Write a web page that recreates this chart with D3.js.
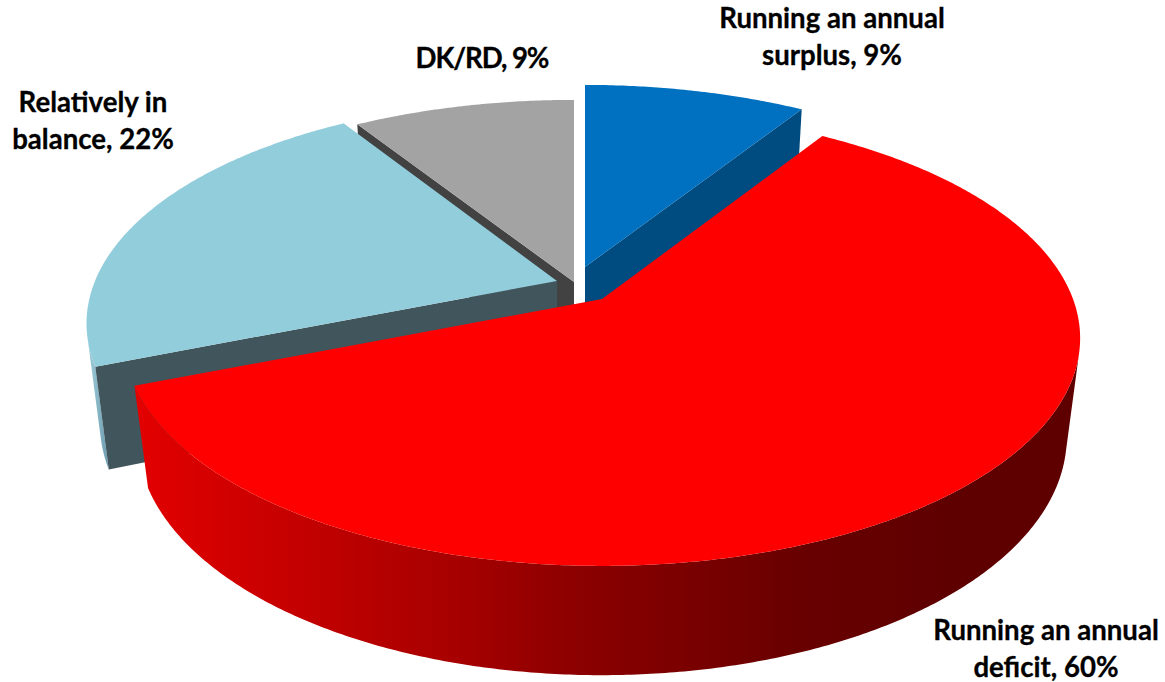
<!DOCTYPE html>
<html>
<head>
<meta charset="utf-8">
<script src="https://cdn.jsdelivr.net/npm/d3@7"></script>
<style>
  body { margin: 0; background: #fff; }
  text { font-family: Lato, "Open Sans", sans-serif; font-weight: 700; font-size: 27.6px; fill: #000; stroke: #000; stroke-width: 0.3px; text-anchor: middle; }
</style>
</head>
<body>
<script>
// chart data, clockwise from 12 o'clock
var categories = ["Running an annual surplus", "Running an annual deficit", "Relatively in balance", "DK/RD"];
var shares = [9, 60, 22, 9];
var labelLines = [
  ["Running an annual", "surplus, 9%"],
  ["Running an annual", "deficit, 60%"],
  ["Relatively in", "balance, 22%"],
  ["DK/RD, 9%"]
];

var width = 1165, height = 682;

// look of each slice: top face, cut wall, apex on screen (slices are pulled apart)
var topColors = ["#0070c0", "#ff0000", "#92cddc", "#a3a3a3"];
var wallColors = ["#004b80", "#a00000", "#40555c", "#424242"];
var apexX = [585, 602, 557, 574];
var apexY = [267, 299, 281, 282];
var radiusX = [469, 471, 462, 469];
var radiusY = [216.5, 221, 216.5, 216.5];
var tilt = [0.189, 0.172, 0.189, 0.189];
var labelX = [832, 1046, 93, 482];
var labelY = [28, 640, 112, 68];
var labelSpacing = [0, 0, 0, -1.1];
var drawOrder = [3, 0, 2, 1];

// perspective of the disc side
var depthY = 101, depthW = 0.028;

var svg = d3.select("body").append("svg")
    .attr("width", width)
    .attr("height", height);

var defs = svg.append("defs");

function addGradient(id, x1, x2, stops) {
  var g = defs.append("linearGradient")
      .attr("id", id)
      .attr("gradientUnits", "userSpaceOnUse")
      .attr("x1", x1).attr("x2", x2).attr("y1", 0).attr("y2", 0);
  stops.forEach(function(s) {
    g.append("stop").attr("offset", (s[0] - x1) / (x2 - x1)).attr("stop-color", s[1]);
  });
}
addGradient("rim1", 140, 950, [[140, "#e20000"], [300, "#c40000"], [450, "#a80000"], [575, "#8c0000"], [700, "#780000"], [800, "#680000"], [950, "#5f0000"]]);
addGradient("rim2", 85, 107, [[85, "#a8d5e2"], [107, "#6f9fb2"]]);

// angle + slice -> screen, side 0 is the top face and 1 the bottom one
function project(i, angle, r, side) {
  var u = Math.sin(angle) * r, v = -Math.cos(angle) * r;
  var w = 1 - tilt[i] * v + depthW * side;
  return [apexX[i] + radiusX[i] * u / w, apexY[i] + (radiusY[i] * v + depthY * side) / w];
}

// d3.polygonArea is positive for quads that turn towards the viewer here
function facing(q) {
  return d3.polygonArea(q) > 0;
}

var line = d3.line().curve(d3.curveLinear);
var pie = d3.pie().sort(null)(shares);
var step = Math.PI / 360;

function arcAngles(a0, a1) {
  var list = d3.range(a0, a1, step);
  list.push(a1);
  return list;
}

drawOrder.forEach(function(i) {
  var a0 = pie[i].startAngle, a1 = pie[i].endAngle;
  var angles = arcAngles(a0, a1);

  // outer rim: only the part that faces the viewer
  var front = angles.filter(function(a, n) {
    if (n == angles.length - 1) return false;
    var b = angles[n + 1];
    return facing([project(i, a, 1, 0), project(i, b, 1, 0), project(i, b, 1, 1), project(i, a, 1, 1)]);
  });
  if (front.length) {
    var last = Math.min(front[front.length - 1] + step, a1);
    var rimAngles = arcAngles(front[0], last);
    var rim = rimAngles.map(function(a) { return project(i, a, 1, 0); })
        .concat(rimAngles.slice().reverse().map(function(a) { return project(i, a, 1, 1); }));
    svg.append("path")
        .attr("d", line(rim) + "Z")
        .attr("fill", i == 1 ? "url(#rim1)" : "url(#rim2)");
  }

  // the two cut walls
  var walls = [
    [project(i, a0, 0, 0), project(i, a0, 1, 0), project(i, a0, 1, 1), project(i, a0, 0, 1)],
    [project(i, a1, 1, 0), project(i, a1, 0, 0), project(i, a1, 0, 1), project(i, a1, 1, 1)]
  ];
  walls.forEach(function(q) {
    if (facing(q)) {
      svg.append("path")
          .attr("d", line(q) + "Z")
          .attr("fill", wallColors[i]);
    }
  });

  // top face
  var face = [project(i, a0, 0, 0)].concat(angles.map(function(a) { return project(i, a, 1, 0); }));
  svg.append("path")
      .attr("class", "slice")
      .attr("d", line(face) + "Z")
      .attr("fill", topColors[i])
      .append("title").text(categories[i]);
});

// labels
labelLines.forEach(function(lines, i) {
  var t = svg.append("text").attr("y", labelY[i]).style("letter-spacing", labelSpacing[i] + "px");
  lines.forEach(function(s, n) {
    t.append("tspan")
        .attr("x", labelX[i])
        .attr("dy", n == 0 ? 0 : 37)
        .text(s);
  });
});
</script>
</body>
</html>
